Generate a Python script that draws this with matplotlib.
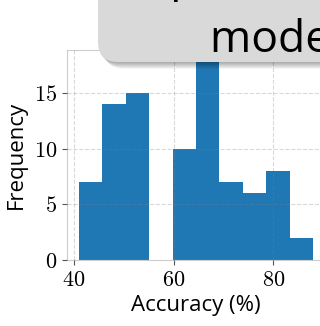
import numpy as np
import matplotlib
matplotlib.use("Agg")
import matplotlib.pyplot as plt
from matplotlib.patches import FancyBboxPatch

# histogram of per-run accuracy, 10 equal bins
bin_lo, bin_hi, n_bins = 41.0, 88.0, 10
counts = [7, 14, 15, 0, 10, 18, 7, 6, 8, 2]
x_ticks = [40, 60, 80]
y_ticks = [0, 5, 10, 15]
title_lines = ["Top-k accuracy by", "model size"]

plt.rcParams["mathtext.fontset"] = "cm"
sans = "Open Sans"

fig = plt.figure(figsize=(3.2, 3.26), dpi=100)
ax = fig.add_axes([0.209, 0.2025, 0.807, 0.644])

edges = np.linspace(bin_lo, bin_hi, n_bins + 1)
ax.hist(edges[:-1], bins=edges, weights=counts, color="#1f77b4")

ax.set_xticks(x_ticks)
ax.set_yticks(y_ticks)
ax.xaxis.set_major_formatter(plt.FuncFormatter(lambda v, p: f"${v:g}$"))
ax.yaxis.set_major_formatter(plt.FuncFormatter(lambda v, p: f"${v:g}$"))
ax.tick_params(labelsize=16, color="#555555", length=3.5, width=0.8)

ax.set_axisbelow(False)
ax.grid(True, linestyle="--", color="gray", alpha=0.3, linewidth=0.8)
for s in ax.spines.values():
    s.set_color("#cccccc")
    s.set_linewidth(0.8)

ax.set_xlabel("Accuracy (%)", fontsize=16, family=sans, labelpad=4)
ax.set_ylabel("Frequency", fontsize=16, family=sans, labelpad=5)

# title box with a soft drop shadow
inch = fig.dpi_scale_trans
box_x, box_y, box_w, box_h = 0.98, 2.64, 4.0, 1.5
for k in range(1, 7):
    sh = FancyBboxPatch((box_x + 0.01 * k, box_y - 0.011 * k), box_w, box_h,
                        boxstyle="round,pad=0,rounding_size=0.2",
                        transform=inch, facecolor="black", edgecolor="none",
                        alpha=0.06, zorder=9)
    fig.add_artist(sh)
box = FancyBboxPatch((box_x, box_y), box_w, box_h,
                     boxstyle="round,pad=0,rounding_size=0.2",
                     transform=inch, facecolor="#d9d9d9", edgecolor="none",
                     zorder=10)
fig.add_artist(box)
fig.text(1.19, 3.355, title_lines[0], transform=inch, fontsize=32, family=sans,
         va="baseline", ha="left", zorder=11)
fig.text(2.10, 2.743, title_lines[1], transform=inch, fontsize=32, family=sans,
         va="baseline", ha="left", zorder=11)

fig.savefig("out.png", dpi=100)
